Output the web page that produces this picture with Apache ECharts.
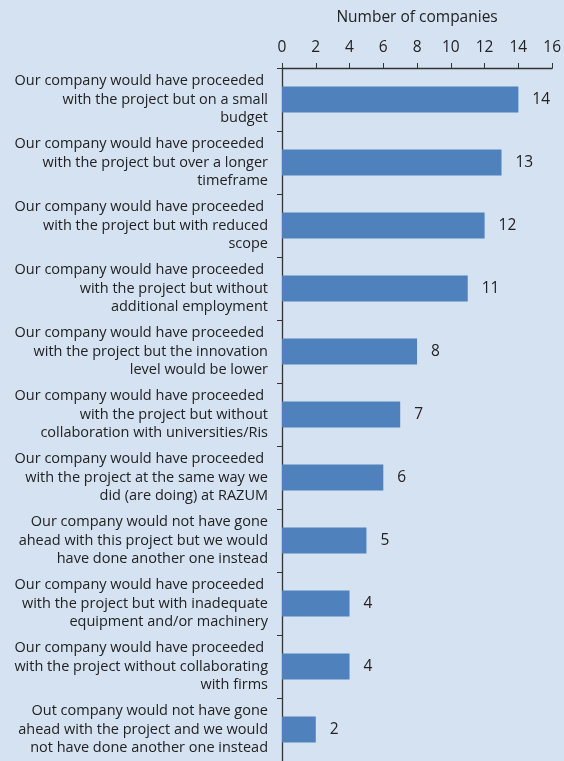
<!DOCTYPE html>
<html><head><meta charset="utf-8">
<script src="https://cdn.jsdelivr.net/npm/echarts@6/dist/echarts.min.js"></script>
<style>html,body{margin:0;padding:0;background:#D5E2F1;}#c{width:564px;height:761px;}</style>
</head><body><div id="c"></div>
<script>
const categories = [
  "Our company would have proceeded \nwith the project but on a small\nbudget",
  "Our company would have proceeded \nwith the project but over a longer\ntimeframe",
  "Our company would have proceeded \nwith the project but with reduced\nscope",
  "Our company would have proceeded \nwith the project but without\nadditional employment",
  "Our company would have proceeded \nwith the project but the innovation\nlevel would be lower",
  "Our company would have proceeded \nwith the project but without\ncollaboration with universities/Ris",
  "Our company would have proceeded \nwith the project at the same way we\ndid (are doing) at RAZUM",
  "Our company would not have gone\nahead with this project but we would\nhave done another one instead",
  "Our company would have proceeded \nwith the project but with inadequate\nequipment and/or machinery",
  "Our company would have proceeded \nwith the project without collaborating\nwith firms",
  "Out company would not have gone\nahead with the project and we would\nnot have done another one instead"
];
const values = [14, 13, 12, 11, 8, 7, 6, 5, 4, 4, 2];
const axisTitle = "Number of companies";
const axisMin = 0, axisMax = 16, axisStep = 2;

const chart = echarts.init(document.getElementById('c'), null, {renderer: 'canvas'});
const font = "'Open Sans', 'Noto Sans', sans-serif";
chart.setOption({
  backgroundColor: '#D5E2F1',
  animation: false,
  grid: {left: 282, right: 11, top: 68, bottom: 0, containLabel: false},
  xAxis: {
    type: 'value', position: 'top', min: axisMin, max: axisMax, interval: axisStep,
    name: axisTitle, nameLocation: 'middle', nameGap: 42,
    nameTextStyle: {fontFamily: font, fontSize: 15.5, color: '#222'},
    axisLine: {show: true, lineStyle: {color: '#333', width: 1.3}},
    axisTick: {show: true, inside: false, length: 5, lineStyle: {color: '#333'}},
    axisLabel: {fontFamily: font, fontSize: 15.5, color: '#222', margin: 12},
    splitLine: {show: false}
  },
  yAxis: {
    type: 'category', data: categories, inverse: true,
    axisLine: {show: true, lineStyle: {color: '#333', width: 1.3}},
    axisTick: {show: true, inside: false, length: 5, lineStyle: {color: '#333'}},
    axisLabel: {fontFamily: font, fontSize: 14.5, color: '#222', lineHeight: 18.5, align: 'right', margin: 14}
  },
  series: [{
    type: 'bar', data: values, barCategoryGap: '59%',
    itemStyle: {color: '#4F81BD'},
    label: {show: true, position: 'right', distance: 14, fontFamily: font, fontSize: 15.5, color: '#222'}
  }]
});
</script></body></html>
